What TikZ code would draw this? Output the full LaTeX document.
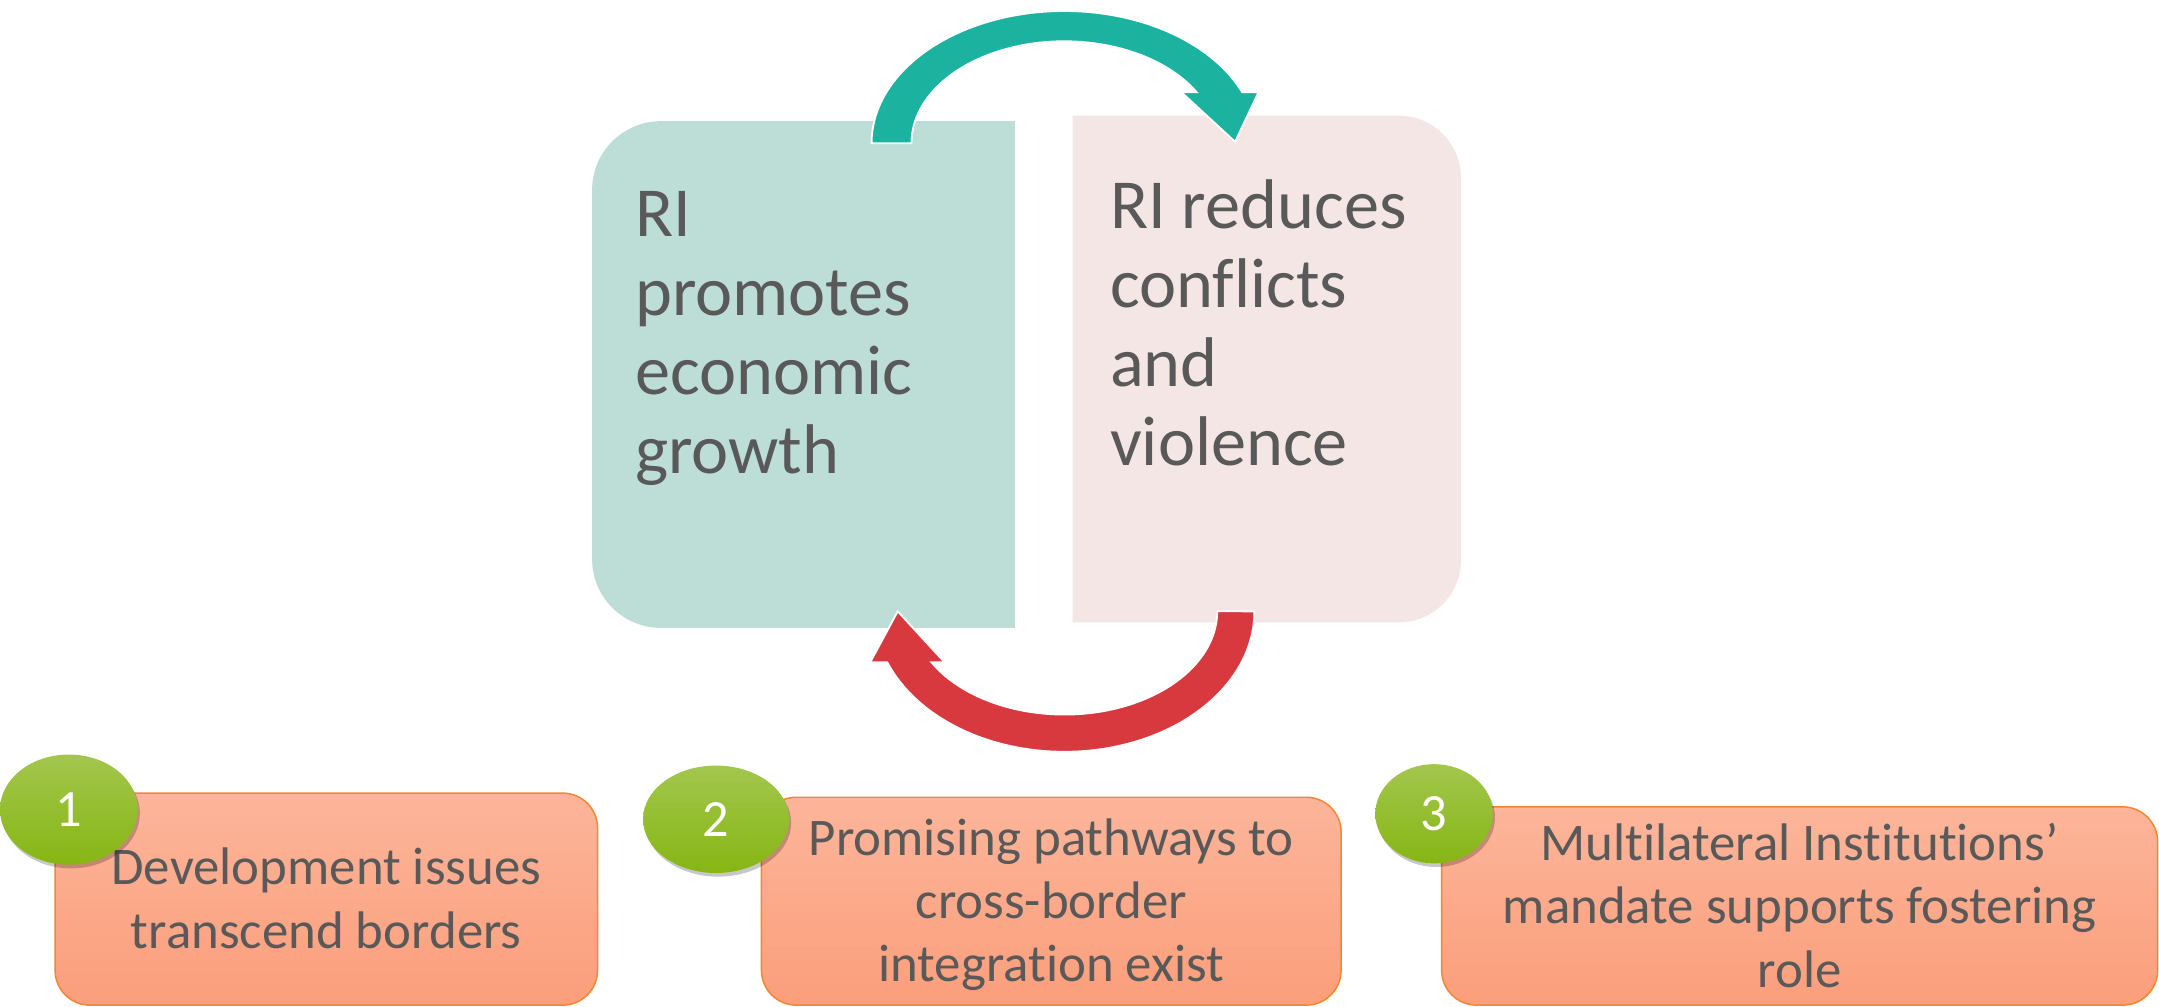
\documentclass[tikz,border=0pt]{standalone}
\usepackage{fontspec}
\setmainfont{Carlito}[Ligatures=NoCommon]
\usetikzlibrary{shadows,shapes.geometric}
\definecolor{boxgreen}{HTML}{BDDED7}
\definecolor{boxpink}{HTML}{F5E6E6}
\definecolor{arrteal}{HTML}{1BB3A0}
\definecolor{arrred}{HTML}{D7393F}
\definecolor{txtgray}{HTML}{595959}
\definecolor{peachtop}{HTML}{FCB59A}
\definecolor{peachbot}{HTML}{FB9E7B}
\definecolor{peachline}{HTML}{F4862F}
\definecolor{badgetop}{HTML}{A3C64E}
\definecolor{badgebot}{HTML}{86B613}
\begin{document}
\begin{tikzpicture}[x=0.75pt,y=-0.75pt,
  bigtext/.style={text=txtgray, font=\fontsize{38.3}{43}\selectfont, align=left, anchor=base west, inner sep=0pt},
  smalltext/.style={text=txtgray, font=\fontsize{28.8}{34.5}\selectfont, align=center, anchor=base, inner sep=0pt},
  peachbox/.style={top color=peachtop, bottom color=peachbot, draw=peachline, line width=0.8pt, rounded corners=19pt, inner sep=0pt},
  badge/.style={shape=ellipse, inner sep=0pt, top color=badgetop, bottom color=badgebot,
     drop shadow={shadow xshift=1.2pt, shadow yshift=-2pt, opacity=0.22, fill=black},
     text=white, font=\fontsize{28.5}{30}\selectfont},
  bigarrow/.style={draw=white, line width=1pt, line join=miter}
]
\useasboundingbox (0,0) rectangle (1568,731);

% main boxes
\fill[boxgreen] (737,88) -- (480,88) arc[start angle=270, end angle=180, radius=50]
  -- (430,406) arc[start angle=180, end angle=90, radius=50] -- (737,456) -- cycle;
\fill[boxpink] (779,84) -- (1016,84) arc[start angle=270, end angle=360, radius=45]
  -- (1061,407) arc[start angle=0, end angle=90, radius=45] -- (779,452) -- cycle;

% (base anchor = baseline of the last line)
\node[bigtext] (growth) at (461,343.6) {RI\\promotes\\economic\\growth};
\node[bigtext] (conflict) at (806,338) {RI reduces\\conflicts\\and\\violence};

% cycle arrows
\path[fill=arrteal, bigarrow] (633,104) arc[start angle=180, end angle=337.3, x radius=140, y radius=96]
  -- (914,67) -- (897,103) -- (858,67) -- (869.1,67)
  arc[start angle=330, end angle=180, x radius=111, y radius=74] -- cycle;
\path[fill=arrred, bigarrow] (911,444) arc[start angle=0, end angle=158.7, x radius=138, y radius=102]
  -- (632,481) -- (652,444) -- (686,481) -- (676.5,481)
  arc[start angle=150.4, end angle=0, x radius=111, y radius=75] -- cycle;

% bottom boxes
\node[peachbox, minimum width=295.5pt, minimum height=115.5pt] (box1) at (237,653) {};
\node[peachbox, minimum width=315.75pt, minimum height=113.25pt] (box2) at (763.5,654.5) {};
\node[peachbox, minimum width=390pt, minimum height=108pt] (box3) at (1307,658) {};

\node[smalltext] (t1) at (237,688.6) {Development issues\\transcend borders};
\node[smalltext] (t2) at (763.5,713) {Promising pathways to\\cross-border\\integration exist};
\node[smalltext] (t3) at (1307,717) {Multilateral Institutions’\\mandate supports fostering\\role};

% badges
\node[badge, minimum width=75pt, minimum height=60pt] (b1) at (50,588) {1};
\node[badge, minimum width=79.5pt, minimum height=58.5pt] (b2) at (520,595) {2};
\node[badge, minimum width=64pt, minimum height=54pt] (b3) at (1041.5,591) {3};
\end{tikzpicture}
\end{document}
